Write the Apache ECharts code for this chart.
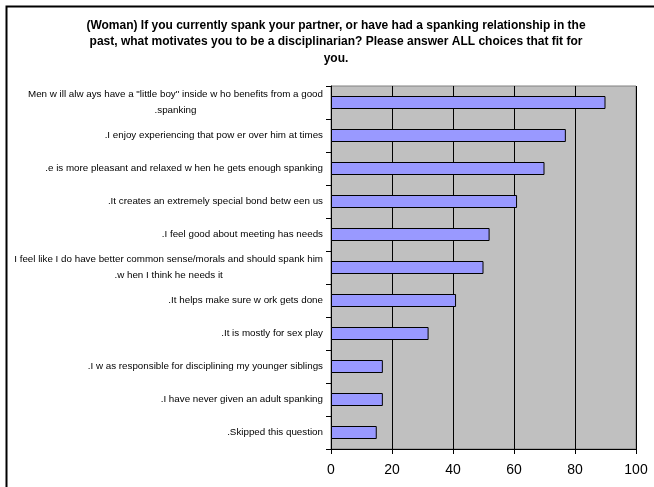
<!DOCTYPE html>
<html>
<head>
<meta charset="utf-8">
<script src="https://cdn.jsdelivr.net/npm/echarts@6/dist/echarts.min.js"></script>
<style>
  html, body { margin: 0; padding: 0; background: #fff; }
  #chart { width: 654px; height: 487px; }
</style>
</head>
<body>
<div id="chart"></div>
<script>
// Survey answers, top to bottom
const categories = [
  'Men w ill alw ays have a "little boy" inside w ho benefits from a good\n.spanking',
  '.I enjoy experiencing that pow er over him at times',
  '.e is more pleasant and relaxed w hen he gets enough spanking',
  '.It creates an extremely special bond betw een us',
  '.I feel good about meeting has needs',
  'I feel like I do have better common sense/morals and should spank him\n.w hen I think he needs it',
  '.It helps make sure w ork gets done',
  '.It is mostly for sex play',
  '.I w as responsible for disciplining my younger siblings',
  '.I have never given an adult spanking',
  '.Skipped this question'
];
const values = [90, 77, 70, 61, 52, 50, 41, 32, 17, 17, 15];
const xTicks = [0, 20, 40, 60, 80, 100];

const titleText = '(Woman) If you currently spank your partner, or have had a spanking relationship in the\n' +
  'past, what motivates you to be a disciplinarian? Please answer ALL choices that fit for\nyou.';

const FONT = 'Liberation Sans, Arial, sans-serif';
const chart = echarts.init(document.getElementById('chart'), null, { renderer: 'canvas' });

// Multi-line labels: first line sets the block width, following lines are centred under it
function labelFormatter(v) {
  const lines = v.split('\n');
  if (lines.length === 1) return v;
  return lines.map((l, i) => i === 0 ? '{a|' + l + '}' : '{c|' + l + '}').join('\n');
}

chart.setOption({
  animation: false,
  backgroundColor: '#fff',
  title: {
    text: titleText,
    left: 331,
    top: 12,
    textAlign: 'center',
    textStyle: {
      fontFamily: FONT,
      fontSize: 12,
      fontWeight: 'bold',
      color: '#000',
      lineHeight: 16.5,
      align: 'center'
    }
  },
  graphic: [{
    type: 'rect',
    shape: { x: 6.5, y: 6.5, width: 700, height: 600 },
    style: { fill: 'none', stroke: '#000', lineWidth: 2 },
    silent: true
  }],
  grid: {
    left: 331, top: 86, width: 305, height: 363,
    show: true, backgroundColor: '#C0C0C0', borderColor: '#808080', borderWidth: 1
  },
  xAxis: {
    type: 'value',
    min: 0, max: 100, interval: 20,
    axisLine: { show: true, lineStyle: { color: '#000', width: 1 } },
    axisTick: { show: true, length: 5, lineStyle: { color: '#000' } },
    splitLine: { show: true, lineStyle: { color: '#000', width: 1 } },
    axisLabel: {
      color: '#000', fontSize: 14, margin: 14,
      fontFamily: FONT,
      formatter: v => xTicks.includes(v) ? String(v) : ''
    }
  },
  yAxis: {
    type: 'category',
    inverse: true,
    data: categories,
    axisLine: { show: true, lineStyle: { color: '#000', width: 1 } },
    axisTick: { show: true, length: 5, lineStyle: { color: '#000' } },
    splitLine: { show: false },
    axisLabel: {
      color: '#000', fontSize: 9.8, margin: 8, lineHeight: 16,
      fontFamily: FONT,
      formatter: labelFormatter,
      rich: {
        a: { fontSize: 9.8, lineHeight: 16, color: '#000', fontFamily: FONT },
        c: { fontSize: 9.8, lineHeight: 16, color: '#000', align: 'center', fontFamily: FONT }
      }
    }
  },
  series: [{
    type: 'bar',
    data: values,
    barWidth: 13,
    itemStyle: { color: '#9999FF', borderColor: '#000', borderWidth: 1 }
  }]
});
</script>
</body>
</html>
